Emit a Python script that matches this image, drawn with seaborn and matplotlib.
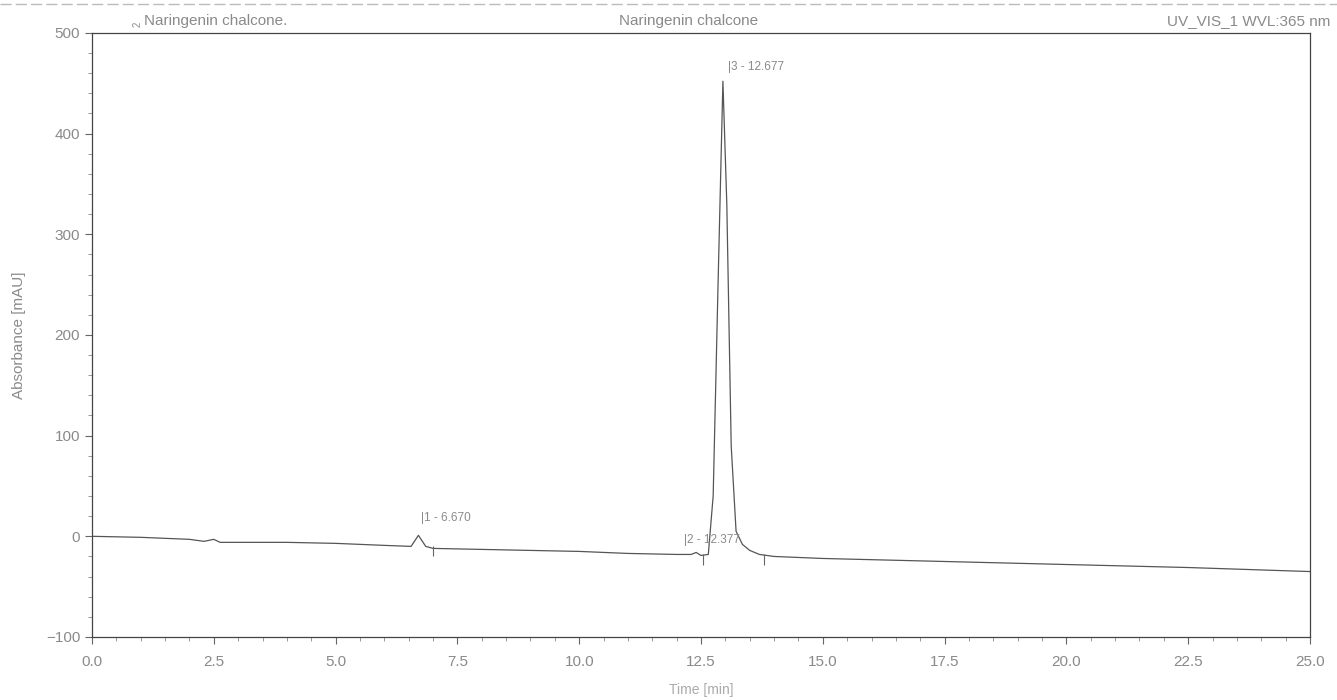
import numpy as np
import pandas as pd
import matplotlib
matplotlib.use("Agg")
import matplotlib.pyplot as plt
from matplotlib.ticker import MultipleLocator, FormatStrFormatter
import seaborn as sns

# chromatogram trace
time_min = [0.0, 1.0, 2.0, 2.3, 2.5, 2.63, 2.8, 4.0, 5.0, 6.0, 6.55, 6.7, 6.85,
            7.0, 8.0, 9.0, 10.0, 11.0, 12.0, 12.3, 12.4, 12.5, 12.65, 12.75,
            12.85, 12.95, 13.03, 13.12, 13.22, 13.35, 13.5, 13.7, 14.0, 15.0,
            17.5, 20.0, 22.5, 25.0]
absorbance = [0, -1, -3, -5, -3, -6, -6, -6, -7, -9, -10, 1, -10,
              -12, -13, -14, -15, -17, -18, -18, -16, -19, -18, 40,
              250, 452, 330, 90, 5, -8, -14, -18, -20, -22,
              -25, -28, -31, -35]

# peak annotations
peak_labels = ["1 - 6.670", "2 - 12.377", "3 - 12.677"]
peak_label_t = [6.75, 12.15, 13.05]
peak_label_y = [12, -10, 460]

# baseline delimiter ticks
delim_t = [7.0, 12.55, 13.8]
delim_top = [-10, -18, -18]
delim_bot = [-20, -28, -28]

df = pd.DataFrame({"Time [min]": time_min, "Absorbance [mAU]": absorbance})

sns.set_style("ticks")
plt.rcParams["font.family"] = ["Liberation Sans", "DejaVu Sans"]

fig = plt.figure(figsize=(13.37, 7.0), dpi=100)
ax = fig.add_axes([0.0688, 0.09, 0.911, 0.863])

grey = "#8a8a8a"
sns.lineplot(data=df, x="Time [min]", y="Absorbance [mAU]", ax=ax,
             color="#555555", linewidth=0.9)

ax.vlines(delim_t, delim_bot, delim_top, color="#666666", linewidth=0.8)
for lab, t, y in zip(peak_labels, peak_label_t, peak_label_y):
    ax.text(t, y, "|" + lab, fontsize=8.5, color=grey, ha="left", va="bottom")

ax.set_xlim(0, 25)
ax.set_ylim(-100, 500)
ax.xaxis.set_major_locator(MultipleLocator(2.5))
ax.xaxis.set_minor_locator(MultipleLocator(0.5))
ax.yaxis.set_major_locator(MultipleLocator(100))
ax.yaxis.set_minor_locator(MultipleLocator(20))
ax.xaxis.set_major_formatter(FormatStrFormatter("%.1f"))

for s in ax.spines.values():
    s.set_color("#444444")
    s.set_linewidth(0.9)
ax.tick_params(which="major", length=5, width=0.8, colors="#666666",
               labelcolor=grey, labelsize=11)
ax.tick_params(which="minor", length=3, width=0.6, colors="#888888")
ax.tick_params(axis="x", pad=8)

ax.set_xlabel("Time [min]", fontsize=10, color="#aaaaaa", labelpad=10)
ax.set_ylabel("Absorbance [mAU]", fontsize=11, color=grey, labelpad=14)

fig.text(0.099, 0.962, "2", fontsize=7, color=grey, rotation=90, va="bottom")
fig.text(0.108, 0.960, "Naringenin chalcone.", fontsize=11, color=grey, va="bottom")
fig.text(0.515, 0.960, "Naringenin chalcone", fontsize=11, color=grey,
         va="bottom", ha="center")
fig.text(0.995, 0.960, "UV_VIS_1 WVL:365 nm", fontsize=11, color=grey,
         va="bottom", ha="right")
fig.add_artist(plt.Line2D([0, 1], [0.995, 0.995], color="#bbbbbb",
                          linewidth=1.0, linestyle=(0, (8, 3))))

fig.savefig("out.png", dpi=100, facecolor="white")
